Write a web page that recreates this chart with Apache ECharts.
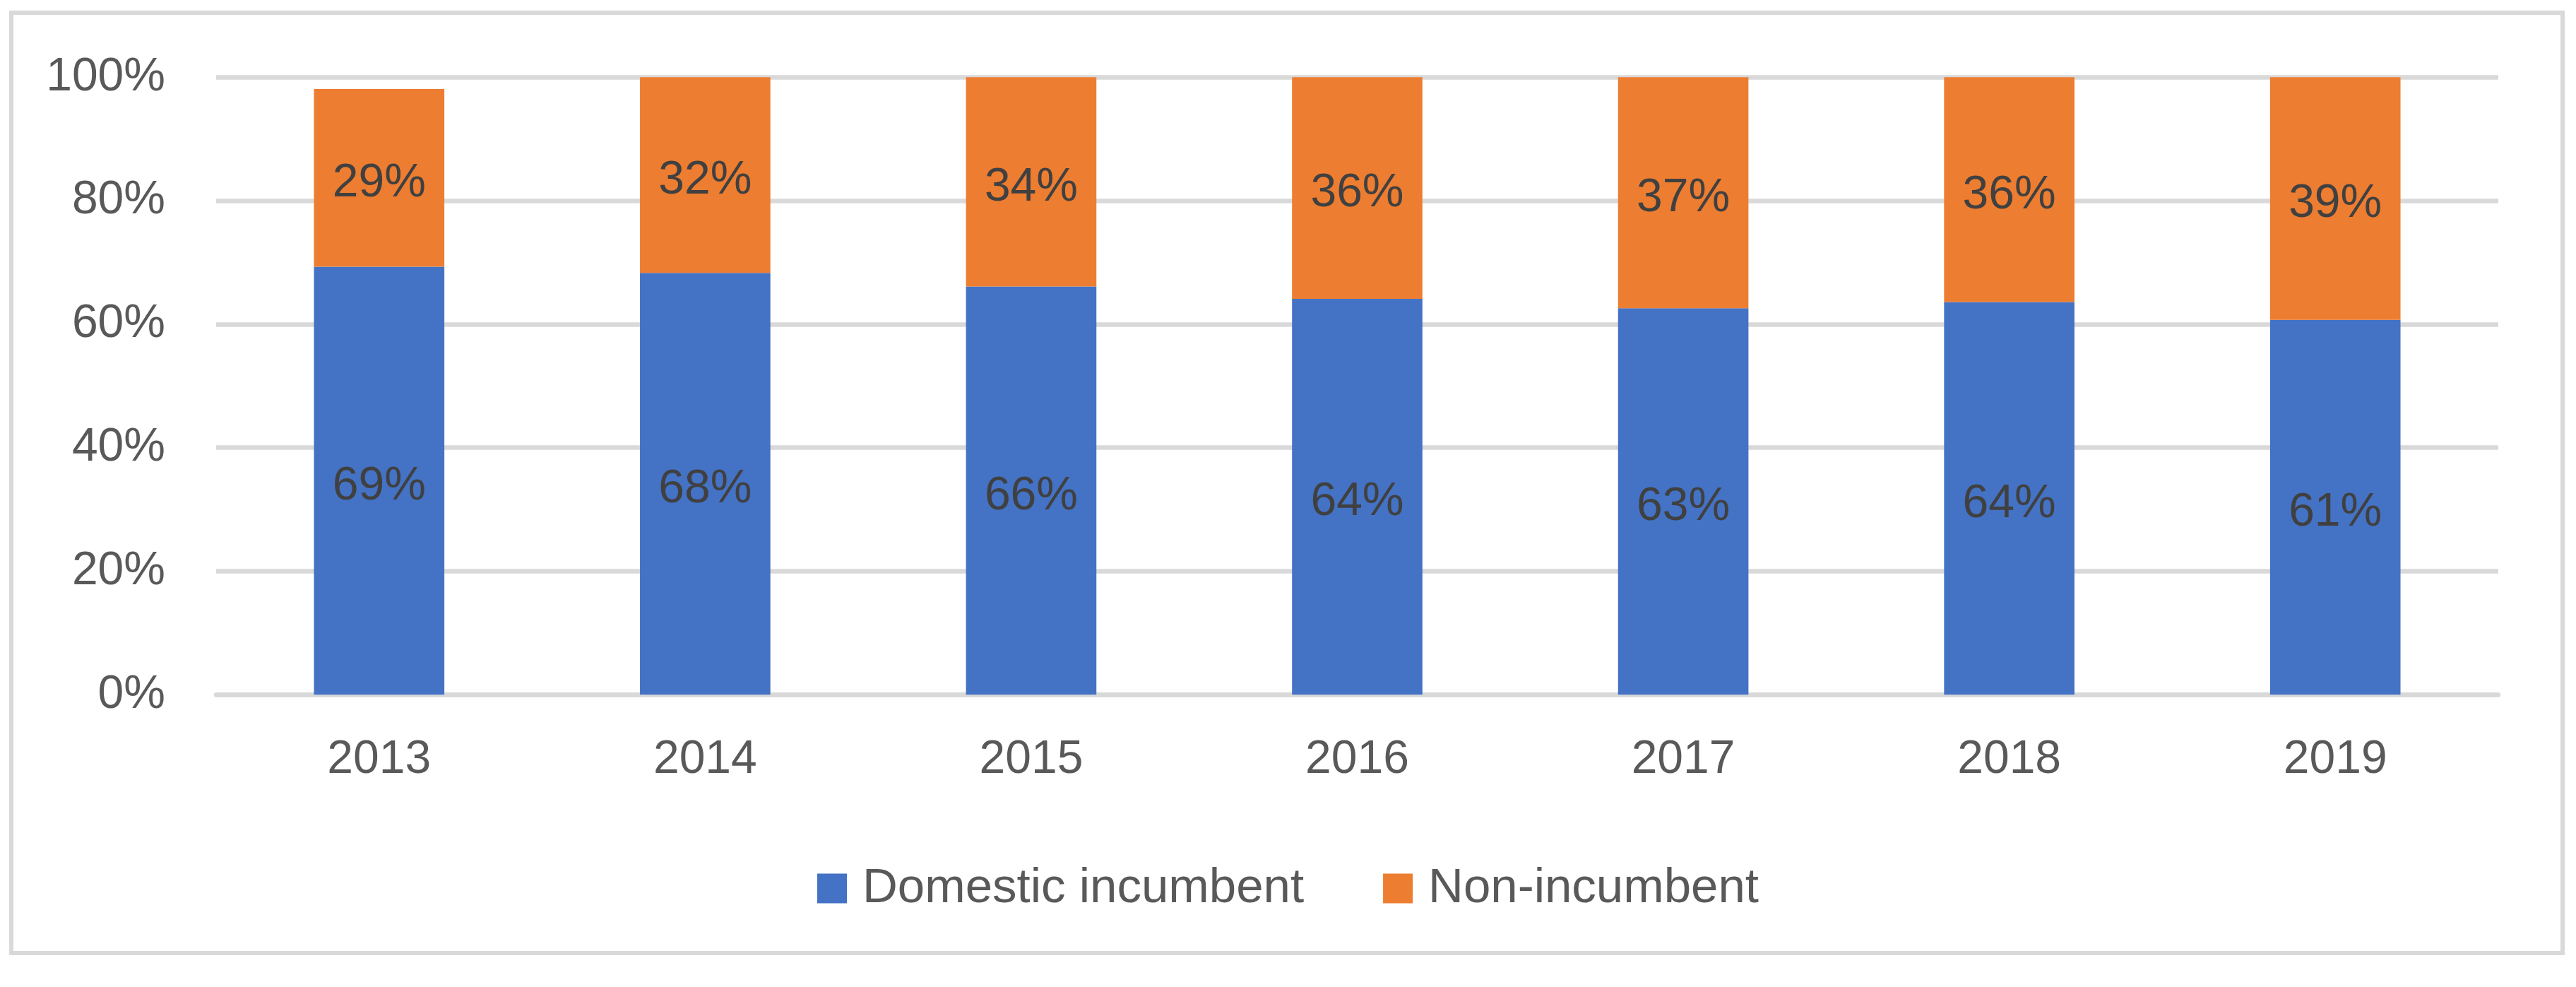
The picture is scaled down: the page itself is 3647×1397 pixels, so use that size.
<!DOCTYPE html>
<html>
<head>
<meta charset="utf-8">
<script src="https://cdn.jsdelivr.net/npm/echarts@6/dist/echarts.min.js"></script>
<style>
html,body{margin:0;padding:0;background:#fff;}
#chart{width:3647px;height:1397px;}
</style>
</head>
<body>
<div id="chart"></div>
<script>
var categories = ['2013', '2014', '2015', '2016', '2017', '2018', '2019'];
var domesticIncumbent = [69.3, 68.3, 66.1, 64.1, 62.6, 63.6, 60.7];
var nonIncumbent = [28.8, 31.7, 33.9, 35.9, 37.4, 36.4, 39.3];
var seriesNames = ['Domestic incumbent', 'Non-incumbent'];
var yTicks = [0, 20, 40, 60, 80, 100];

var FONT = 'Liberation Sans';
var chart = echarts.init(document.getElementById('chart'), null, {renderer: 'canvas'});

function labelCfg() {
  return {
    show: true,
    position: 'inside',
    offset: [0, 8],
    color: '#404040',
    fontFamily: FONT,
    fontSize: 66,
    formatter: function (p) { return Math.round(p.value) + '%'; }
  };
}

var option = {
  backgroundColor: '#ffffff',
  animation: false,
  textStyle: {fontFamily: FONT},
  graphic: [{
    type: 'rect',
    z: -10,
    shape: {x: 16, y: 18, width: 3612, height: 1331},
    style: {fill: 'none', stroke: '#d9d9d9', lineWidth: 6}
  }],
  grid: {left: 306, right: 110, top: 109.3, bottom: 413.7, containLabel: false},
  legend: {
    data: seriesNames,
    left: 'center',
    top: 1218,
    itemWidth: 42,
    itemHeight: 42,
    itemGap: 112,
    icon: 'rect',
    textStyle: {color: '#595959', fontFamily: FONT, fontSize: 69, padding: [0, 0, 0, 17]}
  },
  xAxis: {
    type: 'category',
    data: categories,
    axisTick: {show: false},
    axisLine: {show: true, lineStyle: {color: '#d9d9d9', width: 6.5}},
    axisLabel: {color: '#595959', fontFamily: FONT, fontSize: 66, margin: 59}
  },
  yAxis: {
    type: 'value',
    min: yTicks[0],
    max: yTicks[yTicks.length - 1],
    interval: yTicks[1] - yTicks[0],
    axisLine: {show: false},
    axisTick: {show: false},
    splitLine: {lineStyle: {color: '#d9d9d9', width: 6.5}},
    axisLabel: {color: '#595959', fontFamily: FONT, fontSize: 66, margin: 72, formatter: '{value}%'}
  },
  series: [{
    name: seriesNames[0],
    type: 'bar',
    stack: 'total',
    barWidth: '40%',
    itemStyle: {color: '#4472C4'},
    label: labelCfg(),
    data: domesticIncumbent
  }, {
    name: seriesNames[1],
    type: 'bar',
    stack: 'total',
    barWidth: '40%',
    itemStyle: {color: '#ED7D31'},
    label: labelCfg(),
    data: nonIncumbent
  }]
};
chart.setOption(option);
</script>
</body>
</html>
